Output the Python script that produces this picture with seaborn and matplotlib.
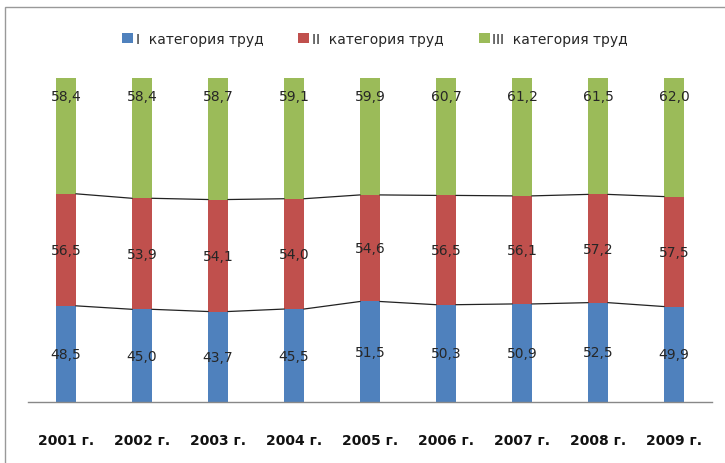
import matplotlib
matplotlib.use("Agg")
import matplotlib.pyplot as plt
import seaborn as sns
import numpy as np
import pandas as pd
from matplotlib.patches import Rectangle

years = ["2001 г.", "2002 г.", "2003 г.", "2004 г.", "2005 г.", "2006 г.", "2007 г.", "2008 г.", "2009 г."]
cat1 = [48.5, 45.0, 43.7, 45.5, 51.5, 50.3, 50.9, 52.5, 49.9]
cat2 = [56.5, 53.9, 54.1, 54.0, 54.6, 56.5, 56.1, 57.2, 57.5]
cat3 = [58.4, 58.4, 58.7, 59.1, 59.9, 60.7, 61.2, 61.5, 62.0]
series_names = ["I  категория труд", "II  категория труд", "III  категория труд"]
colors = ["#4F81BD", "#C0504D", "#9BBB59"]

sns.set_theme(style="white")
plt.rcParams['font.family'] = ['DejaVu Sans']

fig = plt.figure(figsize=(7.25, 4.64), dpi=100)
ax = fig.add_axes([28/725, 1-403/464, (712-28)/725, (403-79)/464])

vals = np.array([cat1, cat2, cat3], dtype=float)
tot = vals.sum(axis=0)
frac = vals / tot
x = np.arange(len(years))
w = 0.26
bottom = np.zeros(len(years))
tops = []
for i in range(3):
    df = pd.DataFrame({"year": years, "v": frac[i] + bottom})
    # draw stacked via seaborn: draw cumulative bar, later segments overdraw
    tops.append(frac[i] + bottom)
    bottom = bottom + frac[i]

# draw from top cumulative down so lower segments overlay
for i in reversed(range(3)):
    df = pd.DataFrame({"year": years, "v": tops[i]})
    sns.barplot(data=df, x="year", y="v", color=colors[i], width=w, ax=ax,
                saturation=1, label=series_names[i], linewidth=0)

# series lines
for i in range(2):
    for j in range(len(years) - 1):
        ax.plot([x[j] + w/2, x[j+1] - w/2], [tops[i][j], tops[i][j+1]],
                color="#222222", lw=0.9, zorder=3)

# labels
bottoms = [np.zeros(len(years)), tops[0], tops[1]]
for i, arr in enumerate([cat1, cat2, cat3]):
    for j, v in enumerate(arr):
        if i < 2:
            yy = (bottoms[i][j] + tops[i][j]) / 2
        else:
            yy = 0.945
        ax.text(x[j], yy, f"{v:.1f}".replace(".", ","), ha="center", va="center",
                fontsize=10, color="#262626", zorder=4)

ax.set_ylim(0, 1)
ax.set_xlim(-0.5, len(years) - 0.5)
ax.set_yticks([])
ax.set_xlabel("")
ax.set_ylabel("")
for s in ["top", "right", "left"]:
    ax.spines[s].set_visible(False)
ax.spines["bottom"].set_color("#888888")
ax.spines["bottom"].set_linewidth(1)
ax.tick_params(axis="x", length=0, pad=22)
for lbl in ax.get_xticklabels():
    lbl.set_fontsize(10)
    lbl.set_fontweight("bold")
    lbl.set_color("#111111")

handles, labels = ax.get_legend_handles_labels()
order = [2, 1, 0]
ax.legend([handles[k] for k in order], [labels[k] for k in order],
          loc="center", bbox_to_anchor=(375/725, 1-40/464), bbox_transform=fig.transFigure,
          ncol=3, frameon=False, fontsize=10, handlelength=0.8, handleheight=0.8,
          handletextpad=0.2, columnspacing=2.5)

# outer frame
fig.patches.append(Rectangle((5/725, -0.1), 1.2, 1 - 8/464 + 0.1, transform=fig.transFigure,
                             fill=False, edgecolor="#999999", lw=1))

fig.savefig("out.png", dpi=100)
